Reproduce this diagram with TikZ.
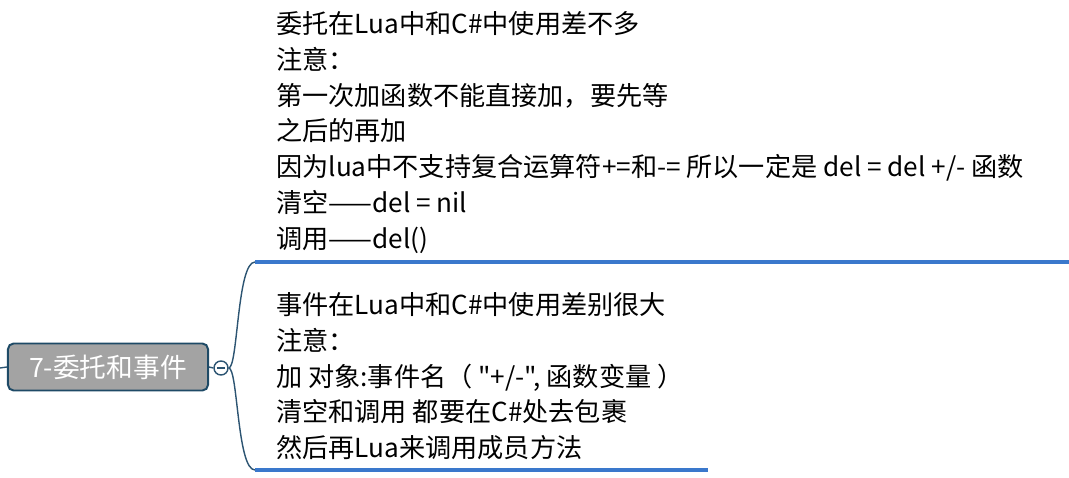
\documentclass[tikz,border=0pt]{standalone}
\usepackage{fontspec}
\setmainfont{Noto Sans CJK SC}[Ligatures=TeXOff]
\definecolor{rootfill}{HTML}{A3A3A3}
\definecolor{rootedge}{HTML}{1E4A66}
\definecolor{branchcol}{HTML}{2C5472}
\definecolor{linecol}{HTML}{3A78CC}
\begin{document}
\begin{tikzpicture}[x=0.025cm,y=-0.025cm,
  root/.style={draw=rootedge,fill=rootfill,line width=1.4pt,rounded corners=4pt,
    minimum width=5cm,minimum height=1.175cm,text=white,font=\fontsize{19}{22}\selectfont},
  topic/.style={align=left,anchor=north west,inner sep=0pt,font=\fontsize{18.6}{25.5}\selectfont},
  branch/.style={draw=branchcol,line width=1pt},
  uline/.style={draw=linecol,line width=2.8pt}]
\useasboundingbox (0,0) rectangle (1069,478);
% central topic
\node[root] (root) at (108,367) {7-委托和事件};
\node[circle,draw=branchcol,fill=white,line width=1pt,minimum size=0.35cm,inner sep=0pt] (fold) at (221,368) {};
\draw[branchcol,line width=1.2pt] ([xshift=-0.09cm]fold.center) -- ([xshift=0.09cm]fold.center);
\coordinate (in) at (0,368);
\draw[branch] (in) -- (root.west);
\draw[branch] (root.east) -- (fold.west);
% branches
\coordinate (u1) at (255,262);
\coordinate (e1) at (1069,262);
\coordinate (u2) at (255,470);
\coordinate (e2) at (708,470);
\draw[branch] (fold.east) .. controls (238,368) and (237,262) .. (u1);
\draw[branch] (fold.east) .. controls (238,368) and (237,470) .. (u2);
\draw[uline] (u1) -- (e1);
\draw[uline] (u2) -- (e2);
% subtopics
\node[topic] (deleg) at (276,11) {委托在Lua中和C\#中使用差不多\\
  注意：\\
  第一次加函数不能直接加，要先等\\
  之后的再加\\
  因为lua中不支持复合运算符+=和-= 所以一定是 del = del +/- 函数\\
  清空——del = nil\\
  调用——del()};
\node[topic] (event) at (276,292) {事件在Lua中和C\#中使用差别很大\\
  注意：\\
  加 对象:事件名（ "+/-", 函数变量 ）\\
  清空和调用 都要在C\#处去包裹\\
  然后再Lua来调用成员方法};
\end{tikzpicture}
\end{document}
